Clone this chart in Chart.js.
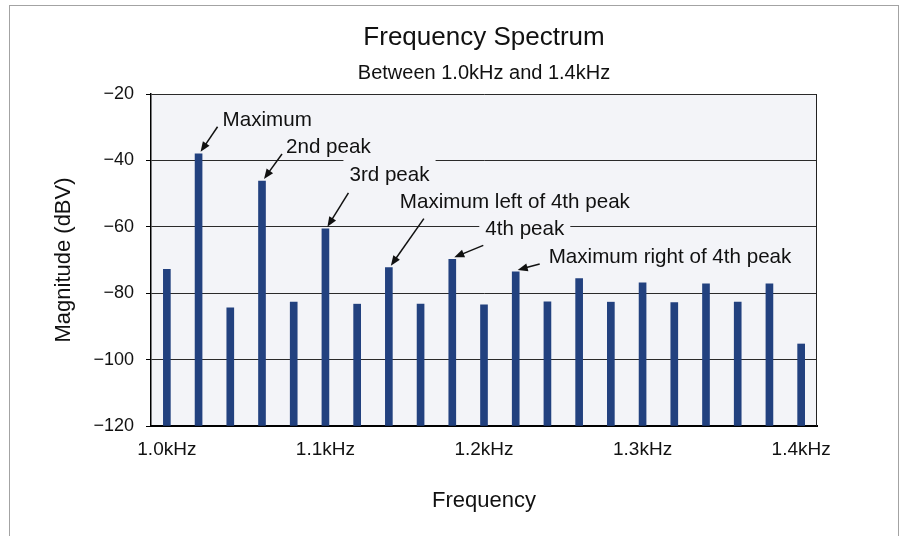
<!DOCTYPE html>
<html>
<head>
<meta charset="utf-8">
<title>Frequency Spectrum</title>
<script src="https://cdn.jsdelivr.net/npm/chart.js@4.4.1/dist/chart.umd.min.js"></script>
<style>
    html, body { margin: 0; padding: 0; background: #fff; }
    #spectrum { display: block; }
</style>
</head>
<body>
<canvas id="spectrum" width="901" height="536"></canvas>
<script>
// ==================== DATA ====================

const frequencies = ['1.00', '1.02', '1.04', '1.06', '1.08', '1.10', '1.12', '1.14', '1.16', '1.18', '1.20',
                     '1.22', '1.24', '1.26', '1.28', '1.30', '1.32', '1.34', '1.36', '1.38', '1.40'];
const magnitudes = [-72.8, -38.0, -84.4, -46.2, -82.7, -60.6, -83.3, -72.3, -83.3, -69.8, -83.5,
                    -73.6, -82.6, -75.6, -82.7, -76.9, -82.8, -77.2, -82.7, -77.2, -95.3];
const majorTicks = { '1.00': '1.0kHz', '1.10': '1.1kHz', '1.20': '1.2kHz', '1.30': '1.3kHz', '1.40': '1.4kHz' };
const peakLabels = ['Maximum', '2nd peak', '3rd peak', 'Maximum left of 4th peak', '4th peak', 'Maximum right of 4th peak'];
const peakIndexes = [1, 3, 5, 7, 9, 11];

const FONT = '"Liberation Sans", Arial, Helvetica, sans-serif';

// text / arrow offsets relative to the top of the pointed bar
const calloutOffsets = [
    { tx: 24, ty: -28, ax: 19, ay: -27 },
    { tx: 24, ty: -28, ax: 20, ay: -27 },
    { tx: 24, ty: -48, ax: 23, ay: -36 },
    { tx: 11, ty: -60, ax: 35, ay: -49 },
    { tx: 33, ty: -24, ax: 31, ay: -14 },
    { tx: 33, ty: -9, ax: 24, ay: -8 }
];

// ==================== PLUGINS ====================

const framePlugin = {
    id: 'frame',
    beforeDraw(chart) {
        const { ctx, chartArea: a } = chart;
        ctx.save();
        ctx.fillStyle = '#f3f4f8';
        ctx.fillRect(a.left, a.top, a.right - a.left, a.bottom - a.top);
        ctx.strokeStyle = '#a3a3a3';
        ctx.lineWidth = 1;
        ctx.strokeRect(9.5, 5.5, 889, 560);
        ctx.restore();
    },
    afterDraw(chart) {
        const { ctx, chartArea: a } = chart;
        ctx.save();
        ctx.strokeStyle = '#222';
        ctx.lineWidth = 1;
        ctx.beginPath();
        ctx.moveTo(Math.round(a.right) - 0.5, a.top);
        ctx.lineTo(Math.round(a.right) - 0.5, a.bottom);
        ctx.stroke();
        ctx.restore();
    }
};

function drawArrow(ctx, x1, y1, x2, y2) {
    const ang = Math.atan2(y2 - y1, x2 - x1);
    const len = 10, half = 4;
    ctx.beginPath();
    ctx.moveTo(x1, y1);
    ctx.lineTo(x2 - Math.cos(ang) * (len - 1), y2 - Math.sin(ang) * (len - 1));
    ctx.stroke();
    ctx.beginPath();
    ctx.moveTo(x2, y2);
    ctx.lineTo(x2 - Math.cos(ang) * len - Math.sin(ang) * half, y2 - Math.sin(ang) * len + Math.cos(ang) * half);
    ctx.lineTo(x2 - Math.cos(ang) * len + Math.sin(ang) * half, y2 - Math.sin(ang) * len - Math.cos(ang) * half);
    ctx.closePath();
    ctx.fill();
}

const calloutPlugin = {
    id: 'callouts',
    afterDatasetsDraw(chart) {
        const { ctx, scales: { x, y } } = chart;
        ctx.save();
        ctx.font = '20.6px ' + FONT;
        ctx.textBaseline = 'alphabetic';
        ctx.textAlign = 'left';

        // boxes first (they hide grid lines), then arrows and text
        peakIndexes.forEach((idx, i) => {
            const bx = x.getPixelForValue(idx);
            const by = y.getPixelForValue(magnitudes[idx]);
            const o = calloutOffsets[i];
            const w = ctx.measureText(peakLabels[i]).width;
            ctx.fillStyle = '#f3f4f8';
            ctx.fillRect(bx + o.tx - 6, by + o.ty - 23, w + 12, 29);
        });

        ctx.fillStyle = '#111';
        ctx.strokeStyle = '#111';
        ctx.lineWidth = 1.5;
        peakIndexes.forEach((idx, i) => {
            const bx = x.getPixelForValue(idx);
            const by = y.getPixelForValue(magnitudes[idx]);
            const o = calloutOffsets[i];
            ctx.fillText(peakLabels[i], bx + o.tx, by + o.ty);
            drawArrow(ctx, bx + o.ax, by + o.ay, bx + 2, by - 2);
        });
        ctx.restore();
    }
};

// ==================== CHART ====================

Chart.defaults.font.family = FONT;
Chart.defaults.color = '#111';

new Chart(document.getElementById('spectrum'), {
    type: 'bar',
    data: {
        labels: frequencies,
        datasets: [{
            label: 'Magnitude',
            data: magnitudes,
            base: -120,
            backgroundColor: '#22417f',
            borderWidth: 0,
            barThickness: 7
        }]
    },
    options: {
        responsive: false,
        animation: false,
        devicePixelRatio: 1,
        layout: { padding: { left: 0, right: 84, top: 0, bottom: 0 } },
        plugins: {
            legend: { display: false },
            tooltip: { enabled: false },
            title: {
                display: true,
                fullSize: false,
                text: 'Frequency Spectrum',
                color: '#111',
                font: { size: 26, weight: 'normal' },
                padding: { top: 22, bottom: 1 }
            },
            subtitle: {
                display: true,
                fullSize: false,
                text: 'Between 1.0kHz and 1.4kHz',
                color: '#111',
                font: { size: 20 },
                padding: { top: 7, bottom: 8.8 }
            }
        },
        scales: {
            x: {
                offset: true,
                grid: { display: false, drawTicks: false },
                border: { display: true, color: '#000', width: 2 },
                ticks: {
                    autoSkip: false,
                    maxRotation: 0,
                    padding: 12,
                    font: { size: 19 },
                    color: '#111',
                    callback: function (val) {
                        return majorTicks[this.getLabelForValue(val)] || '';
                    }
                },
                title: {
                    display: true,
                    text: 'Frequency',
                    color: '#111',
                    font: { size: 22 },
                    padding: { top: 0, bottom: 22 }
                },
                afterFit(scale) { scale.height = 110; }
            },
            y: {
                min: -120,
                max: -20,
                grid: { color: '#2a2a2a', lineWidth: 1, tickLength: 5, tickColor: '#000' },
                border: { display: true, color: '#000', width: 1.5 },
                ticks: {
                    stepSize: 20,
                    padding: 12,
                    font: { size: 18 },
                    color: '#111',
                    callback: v => String(v).replace('-', '\u2212')
                },
                title: {
                    display: true,
                    text: 'Magnitude (dBV)',
                    color: '#111',
                    font: { size: 22 },
                    padding: { top: 51, bottom: 0 }
                },
                afterFit(scale) { scale.width = 151; }
            }
        }
    },
    plugins: [framePlugin, calloutPlugin]
});
</script>
</body>
</html>
